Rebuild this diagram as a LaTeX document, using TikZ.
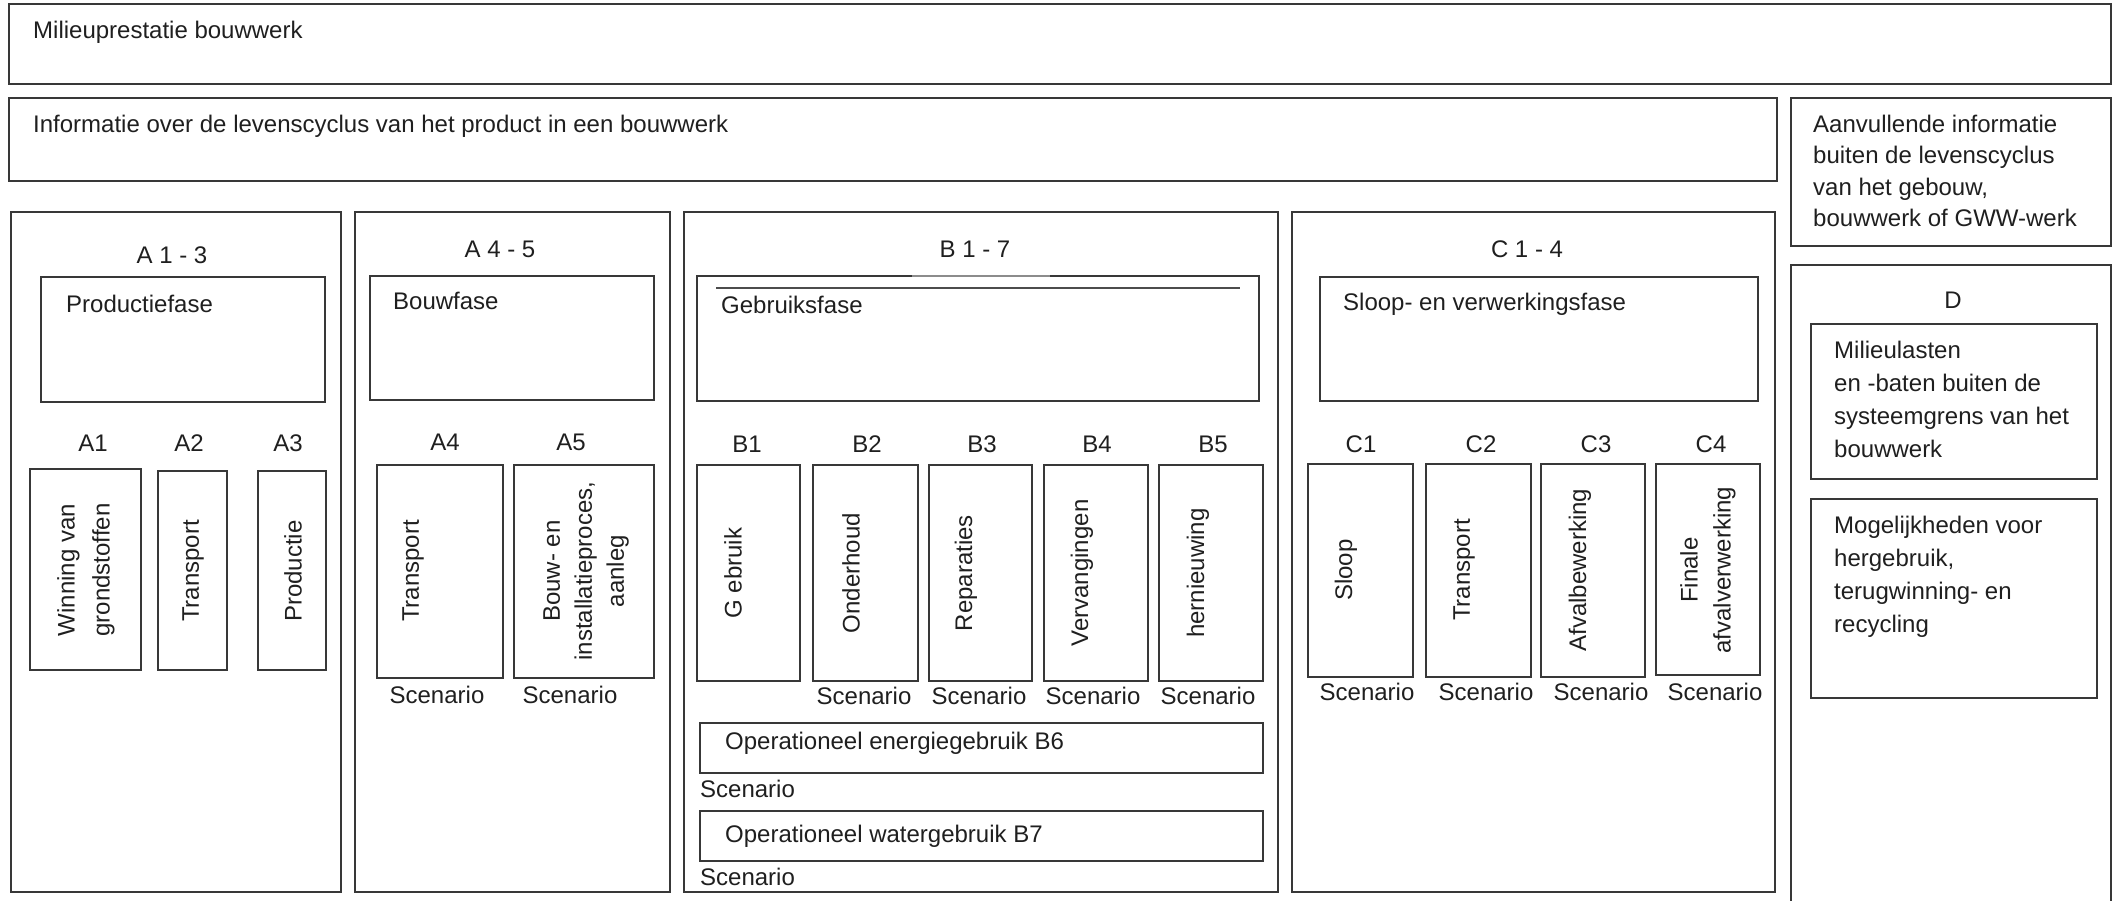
\documentclass[tikz,border=0pt]{standalone}
\usepackage{fontspec}
\setmainfont{Liberation Sans}
\usetikzlibrary{fit}
\newcommand\mybox[3]{\node[box, fit={#2 #3}] (#1) {};}
\begin{document}
\begin{tikzpicture}[x=1pt,y=-1pt,
  box/.style={draw=black!78, line width=2pt, inner sep=0pt},
  txt/.style={inner sep=0pt, font=\fontsize{24}{33}\selectfont, text=black!88},
  ltxt/.style={txt, anchor=base west},
  ctxt/.style={txt, anchor=base},
  vtxt/.style={txt, rotate=90, align=center, anchor=center},
]
\useasboundingbox (0,0) rectangle (2114,900);
\clip (0,0) rectangle (2114,900);

% top rows
\mybox{top}{(9,4)}{(2111,84)}
\node[ltxt] (tTop) at (33,38) {Milieuprestatie bouwwerk};
\mybox{info}{(9,98)}{(1777,181)}
\node[ltxt] (tInfo) at (33,132) {Informatie over de levenscyclus van het product in een bouwwerk};
\mybox{aan}{(1791,98)}{(2111,246)}
% multi-line nodes: base anchor = baseline of the last line
\node[ltxt, align=left, font=\fontsize{24}{31.5}\selectfont] (tAan) at (1813,226.5)
  {Aanvullende informatie\\buiten de levenscyclus\\van het gebouw,\\bouwwerk of GWW-werk};

% D column
\mybox{dbox}{(1791,265)}{(2111,915)}
\node[ctxt] (tD) at (1953,308) {D};
\mybox{mil}{(1811,324)}{(2097,479)}
\node[ltxt, align=left] (tMil) at (1834,457)
  {Milieulasten\\en -baten buiten de\\systeemgrens van het\\bouwwerk};
\mybox{mog}{(1811,499)}{(2097,698)}
\node[ltxt, align=left] (tMog) at (1834,632)
  {Mogelijkheden voor\\hergebruik,\\terugwinning- en\\recycling};

% A 1-3
\mybox{a13}{(11,212)}{(341,892)}
\node[ctxt] (tA13) at (172,263) {A 1 - 3};
\mybox{prod}{(41,277)}{(325,402)}
\node[ltxt] (tProd) at (66,312) {Productiefase};
\node[ctxt] (lA1) at (93,451) {A1};
\node[ctxt] (lA2) at (189,451) {A2};
\node[ctxt] (lA3) at (288,451) {A3};
\mybox{bA1}{(30,469)}{(141,670)}
\mybox{bA2}{(158,471)}{(227,670)}
\mybox{bA3}{(258,471)}{(326,670)}
\node[vtxt, font=\fontsize{24}{35}\selectfont] (tA1) at (86,570) {Winning van\\grondstoffen};
\node[vtxt] (tA2) at (193,571) {Transport};
\node[vtxt] (tA3) at (293,571) {Productie};

% A 4-5
\mybox{a45}{(355,212)}{(670,892)}
\node[ctxt] (tA45) at (500,257) {A 4 - 5};
\mybox{bouw}{(370,276)}{(654,400)}
\node[ltxt] (tBouw) at (393,309) {Bouwfase};
\node[ctxt] (lA4) at (445,450) {A4};
\node[ctxt] (lA5) at (571,450) {A5};
\mybox{bA4}{(377,465)}{(503,678)}
\mybox{bA5}{(514,465)}{(654,678)}
\node[vtxt] (tA4) at (413,571) {Transport};
\node[vtxt, font=\fontsize{24}{32}\selectfont] (tA5) at (586,571) {Bouw- en\\installatieproces,\\aanleg};
\node[ctxt] (sA4) at (437,703) {Scenario};
\node[ctxt] (sA5) at (570,703) {Scenario};

% B 1-7
\mybox{b17}{(684,212)}{(1278,892)}
\node[ctxt] (tB17) at (975,257) {B 1 - 7};
\mybox{geb}{(697,276)}{(1259,401)}
\draw[white, line width=3pt] (912,276) -- (1050,276);
\draw[black!45, line width=1.2pt] (912,276) -- (1050,276);
\draw[black!70, line width=1.8pt] (716,288) -- (1240,288);
\node[ltxt] (tGeb) at (721,313) {Gebruiksfase};
\node[ctxt] (lB1) at (747,452) {B1};
\node[ctxt] (lB2) at (867,452) {B2};
\node[ctxt] (lB3) at (982,452) {B3};
\node[ctxt] (lB4) at (1097,452) {B4};
\node[ctxt] (lB5) at (1213,452) {B5};
\mybox{bB1}{(697,465)}{(800,681)}
\mybox{bB2}{(813,465)}{(918,681)}
\mybox{bB3}{(929,465)}{(1032,681)}
\mybox{bB4}{(1044,465)}{(1148,681)}
\mybox{bB5}{(1159,465)}{(1263,681)}
\node[vtxt] (tB1) at (733,573) {G ebruik};
\node[vtxt] (tB2) at (851,573) {Onderhoud};
\node[vtxt] (tB3) at (966,573) {Reparaties};
\node[vtxt] (tB4) at (1082,573) {Vervangingen};
\node[vtxt] (tB5) at (1198,573) {hernieuwing};
\node[ctxt] (sB2) at (864,704) {Scenario};
\node[ctxt] (sB3) at (979,704) {Scenario};
\node[ctxt] (sB4) at (1093,704) {Scenario};
\node[ctxt] (sB5) at (1208,704) {Scenario};
\mybox{bB6}{(700,723)}{(1263,773)}
\node[ltxt] (tB6) at (725,749) {Operationeel energiegebruik B6};
\node[ltxt] (sB6) at (700,797) {Scenario};
\mybox{bB7}{(700,811)}{(1263,861)}
\node[ltxt] (tB7) at (725,842) {Operationeel watergebruik B7};
\node[ltxt] (sB7) at (700,885) {Scenario};

% C 1-4
\mybox{c14}{(1292,212)}{(1775,892)}
\node[ctxt] (tC14) at (1527,257) {C 1 - 4};
\mybox{sloop}{(1320,277)}{(1758,401)}
\node[ltxt] (tSloop) at (1343,310) {Sloop- en verwerkingsfase};
\node[ctxt] (lC1) at (1361,452) {C1};
\node[ctxt] (lC2) at (1481,452) {C2};
\node[ctxt] (lC3) at (1596,452) {C3};
\node[ctxt] (lC4) at (1711,452) {C4};
\mybox{bC1}{(1308,464)}{(1413,677)}
\mybox{bC2}{(1426,464)}{(1531,677)}
\mybox{bC3}{(1541,464)}{(1645,677)}
\mybox{bC4}{(1656,464)}{(1760,675)}
\node[vtxt] (tC1) at (1346,570) {Sloop};
\node[vtxt] (tC2) at (1464,570) {Transport};
\node[vtxt] (tC3) at (1580,570) {Afvalbewerking};
\node[vtxt] (tC4) at (1708,570) {Finale\\afvalverwerking};
\node[ctxt] (sC1) at (1367,700) {Scenario};
\node[ctxt] (sC2) at (1486,700) {Scenario};
\node[ctxt] (sC3) at (1601,700) {Scenario};
\node[ctxt] (sC4) at (1715,700) {Scenario};
\end{tikzpicture}
\end{document}
